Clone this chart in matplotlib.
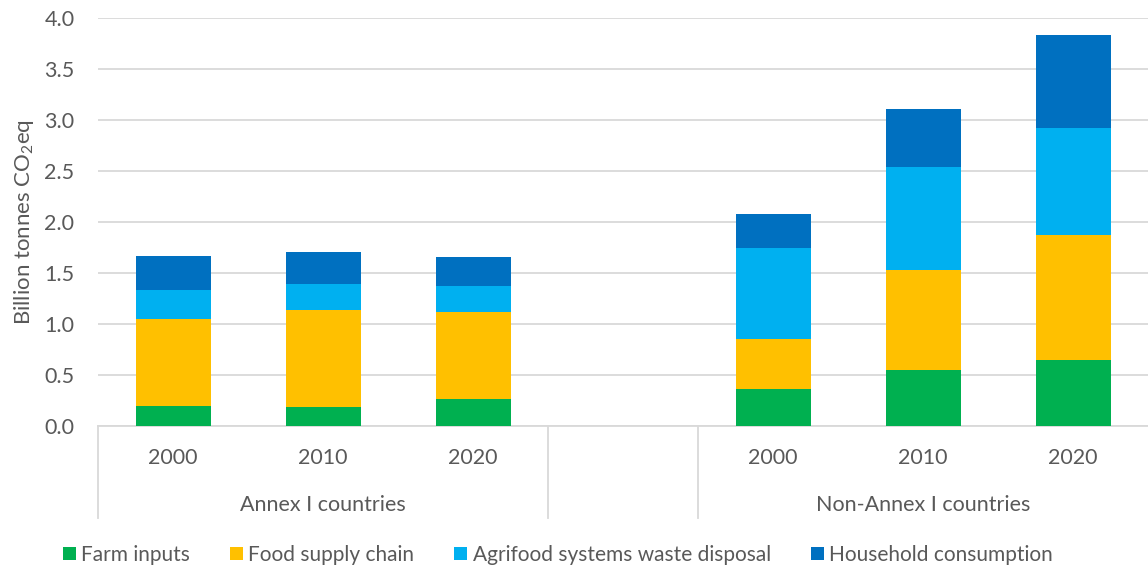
import numpy as np
import matplotlib.pyplot as plt
from matplotlib.patches import Patch
import matplotlib.transforms as mtransforms

plt.rcParams['font.family'] = ['Lato', 'DejaVu Sans']
plt.rcParams['mathtext.fontset'] = 'custom'
plt.rcParams['mathtext.rm'] = 'Lato'
plt.rcParams['mathtext.it'] = 'Lato'

# data (billion tonnes CO2eq)
years = ['2000', '2010', '2020']
groups = ['Annex I countries', 'Non-Annex I countries']
series = ['Farm inputs', 'Food supply chain', 'Agrifood systems waste disposal', 'Household consumption']

farm_inputs = [0.195, 0.19, 0.26, 0.365, 0.55, 0.65]
food_supply = [0.855, 0.95, 0.855, 0.485, 0.975, 1.225]
waste_disposal = [0.28, 0.25, 0.26, 0.90, 1.015, 1.05]
household = [0.34, 0.32, 0.285, 0.33, 0.57, 0.905]

colors = ['#00B050', '#FFC000', '#00B0F0', '#0070C0']
txt = '#595959'

# slot positions: 3 bars, one empty slot, 3 bars
x = np.array([0, 1, 2, 4, 5, 6])

fig = plt.figure(figsize=(11.48, 5.70), dpi=100)
ax = fig.add_axes([98 / 1148, 1 - 426 / 570, 1050 / 1148, 408 / 570])

bottom = np.zeros(len(x))
for vals, c, name in zip([farm_inputs, food_supply, waste_disposal, household], colors, series):
    ax.bar(x, vals, 0.5, bottom=bottom, color=c, label=name, zorder=3)
    bottom += np.array(vals)

ax.set_xlim(-0.5, 6.5)
ax.set_ylim(0, 4.0)
ax.set_yticks(np.arange(0, 4.01, 0.5))
ax.set_yticklabels(['%.1f' % v for v in np.arange(0, 4.01, 0.5)])
ax.yaxis.grid(True, color='#D9D9D9', linewidth=1.3, zorder=0)
for s in ['top', 'right', 'left']:
    ax.spines[s].set_visible(False)
ax.spines['bottom'].set_color('#D9D9D9')
ax.spines['bottom'].set_linewidth(1.3)
ax.tick_params(axis='y', length=0, pad=17, labelsize=15.5, labelcolor=txt)
ax.set_xticks(x)
ax.set_xticklabels(years * 2)
ax.tick_params(axis='x', length=0, pad=16, labelsize=15.5, labelcolor=txt)

ax.set_ylabel('Billion tonnes CO$_2$eq', fontsize=16, color=txt, labelpad=6)

# group labels and separators below the axis
trans = mtransforms.blended_transform_factory(ax.transData, ax.transAxes)
ax.text(1, -0.194, groups[0], transform=trans, ha='center', va='center', fontsize=15.5, color=txt)
ax.text(5, -0.194, groups[1], transform=trans, ha='center', va='center', fontsize=15.5, color=txt)
for xs in [-0.5, 2.5, 3.5]:
    ax.plot([xs, xs], [0, -0.225], transform=trans, color='#D9D9D9', linewidth=1.3, clip_on=False)

handles = [Patch(facecolor=c, label=n) for c, n in zip(colors, series)]
fig.legend(handles=handles, loc='center', bbox_to_anchor=(558 / 1148, 1 - 555 / 570), ncol=4,
           frameon=False, fontsize=15, labelcolor=txt, handlelength=0.62, handleheight=0.62,
           handletextpad=0.25, columnspacing=1.92)

fig.savefig('out.png', dpi=100)
